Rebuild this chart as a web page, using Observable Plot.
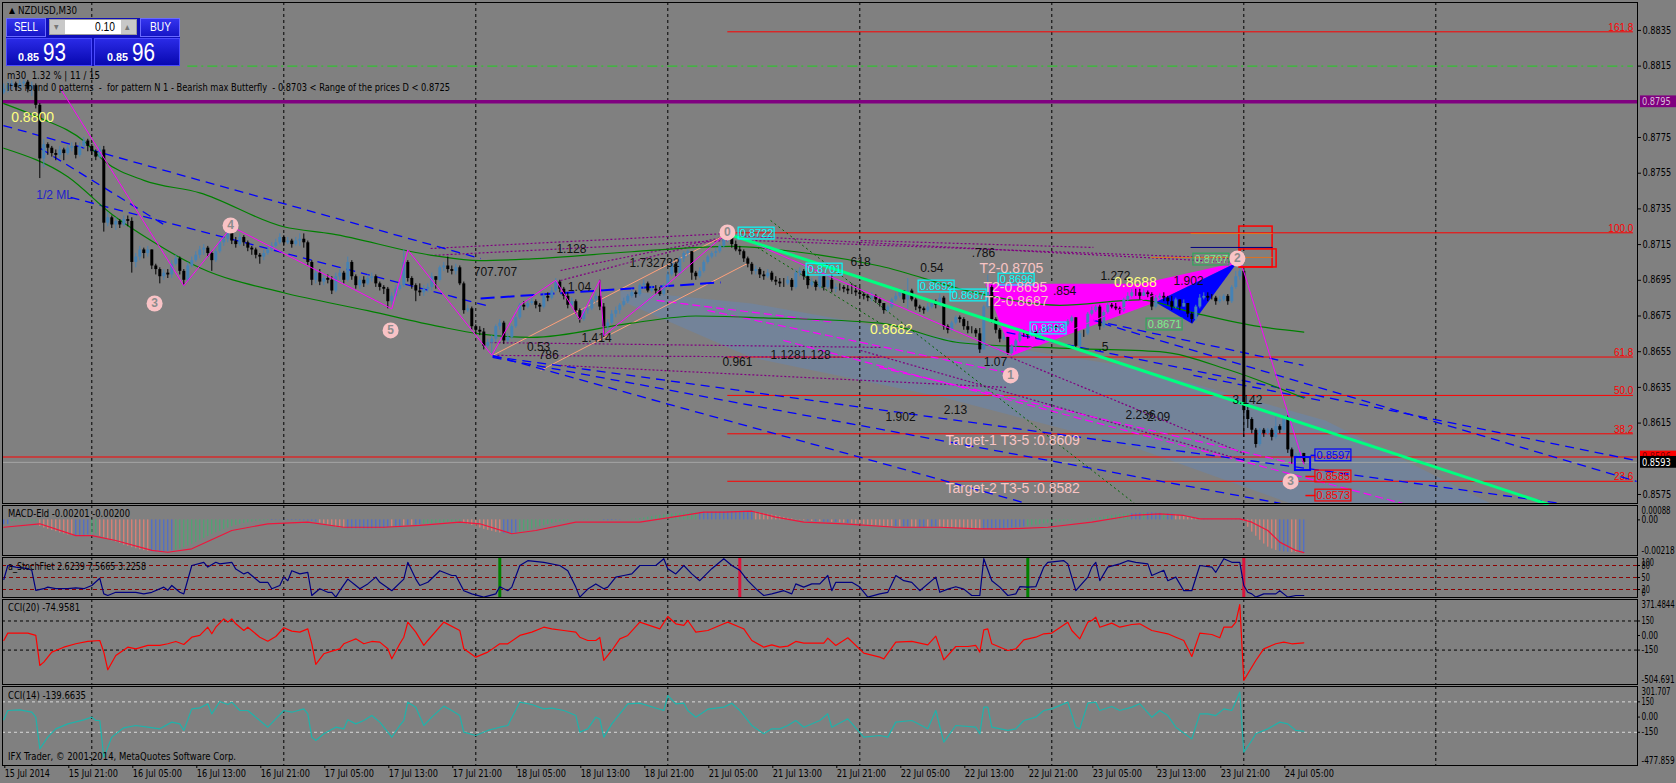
<!DOCTYPE html>
<html><head><meta charset="utf-8">
<script src="https://cdn.jsdelivr.net/npm/d3@7"></script>
<script src="https://cdn.jsdelivr.net/npm/@observablehq/plot@0.6"></script>
<style>
html,body{margin:0;padding:0;background:#808080;}
#chart{position:relative;width:1676px;height:783px;background:#808080;overflow:hidden;}
</style></head><body><div id="chart"></div>
<script>
// ---------------- DATA ----------------
// bar index 0 = 15 Jul 2014 13:00, M30 bars; prices in pips (0.0001)
const firstOpenPips = 8800;
const closePips = [
8802,8804,8805,8803,8805,8806,8802,8804,8793,8763,
8771,8769,8766,8765,8768,8766,8769,8770,8765,8770,
8773,8770,8767,8764,8768,8727,8730,8726,8728,8726,
8729,8728,8705,8708,8712,8710,8712,8703,8701,8697,
8699,8698,8704,8707,8700,8695,8703,8706,8709,8712,
8713,8710,8706,8711,8716,8718,8725,8717,8715,8719,
8716,8713,8712,8709,8708,8710,8712,8714,8716,8719,
8716,8717,8715,8717,8718,8716,8705,8695,8699,8694,
8696,8695,8689,8697,8699,8695,8705,8697,8692,8695,
8693,8696,8697,8693,8691,8690,8683,8686,8690,8692,
8705,8696,8692,8689,8688,8690,8691,8697,8695,8702,
8703,8701,8700,8702,8693,8678,8679,8669,8667,8666,
8658,8660,8662,8669,8671,8661,8663,8669,8674,8681,
8680,8682,8683,8681,8680,8686,8685,8689,8694,8690,
8686,8681,8683,8678,8673,8678,8679,8684,8686,8680,
8669,8671,8676,8678,8681,8683,8686,8688,8687,8692,
8693,8689,8690,8689,8687,8692,8698,8704,8699,8707,
8710,8711,8699,8697,8700,8705,8708,8710,8711,8714,
8718,8719,8715,8712,8711,8707,8704,8700,8701,8698,
8697,8699,8695,8694,8693,8693,8695,8691,8699,8700,
8697,8692,8694,8691,8697,8691,8695,8690,8691,8691,
8690,8689,8689,8688,8687,8686,8685,8686,8684,8682,
8678,8680,8684,8686,8689,8684,8689,8684,8680,8679,
8678,8680,8682,8681,8685,8669,8667,8671,8674,8673,
8669,8667,8667,8665,8656,8680,8691,8673,8667,8662,
8663,8654,8658,8661,8665,8665,8664,8666,8664,8667,
8668,8668,8669,8668,8669,8670,8672,8674,8658,8665,
8665,8676,8678,8680,8669,8677,8681,8680,8679,8678,
8684,8686,8688,8688,8686,8688,8687,8680,8685,8686,
8685,8683,8680,8684,8680,8682,8676,8673,8680,8685,
8686,8685,8685,8683,8684,8686,8683,8691,8697,8700,
8622,8617,8611,8603,8611,8609,8611,8607,8613,8611,
8618,8600,8596,8597,8598,8593];
const highPips = [
8805,8806,8807,8806,8807,8808,8807,8806,8805,8794,
8774,8772,8770,8768,8770,8769,8771,8772,8772,8772,
8775,8774,8771,8768,8770,8770,8733,8731,8730,8729,
8731,8731,8730,8710,8714,8713,8714,8712,8704,8702,
8701,8701,8706,8709,8708,8701,8705,8708,8711,8714,
8715,8714,8711,8713,8718,8720,8727,8726,8719,8721,
8720,8717,8714,8713,8710,8712,8714,8716,8718,8721,
8720,8719,8718,8719,8721,8721,8717,8706,8701,8701,
8698,8698,8697,8699,8701,8700,8708,8706,8698,8697,
8697,8698,8699,8698,8694,8692,8691,8688,8692,8694,
8712,8706,8697,8693,8693,8692,8693,8699,8697,8703,
8705,8708,8703,8704,8703,8694,8681,8680,8670,8669,
8668,8662,8664,8670,8673,8672,8665,8670,8676,8682,
8683,8684,8685,8684,8682,8688,8688,8691,8696,8695,
8691,8688,8685,8684,8679,8679,8681,8685,8688,8695,
8682,8673,8678,8680,8682,8685,8687,8690,8689,8693,
8695,8694,8692,8692,8691,8693,8700,8706,8705,8708,
8711,8712,8711,8700,8702,8706,8709,8711,8713,8715,
8719,8722,8721,8717,8714,8712,8708,8705,8703,8702,
8700,8701,8700,8697,8696,8696,8697,8696,8701,8702,
8701,8698,8696,8695,8699,8697,8697,8698,8693,8693,
8692,8692,8693,8692,8691,8688,8687,8688,8687,8685,
8682,8681,8685,8688,8690,8689,8696,8690,8685,8681,
8680,8682,8683,8684,8687,8686,8670,8672,8675,8675,
8674,8672,8669,8668,8668,8681,8698,8692,8674,8668,
8665,8663,8659,8662,8666,8667,8666,8667,8667,8668,
8669,8669,8670,8670,8670,8671,8673,8675,8674,8666,
8667,8677,8680,8681,8681,8678,8682,8682,8682,8680,
8685,8688,8690,8690,8690,8690,8689,8688,8687,8688,
8688,8686,8686,8685,8684,8684,8682,8677,8681,8687,
8688,8688,8687,8686,8686,8687,8687,8692,8700,8707,
8701,8624,8618,8612,8612,8612,8612,8612,8618,8614,
8619,8619,8601,8598,8599,8598];
const lowPips = [
8799,8800,8802,8801,8802,8803,8800,8798,8791,8752,
8758,8765,8764,8762,8763,8762,8765,8767,8763,8764,
8769,8767,8765,8762,8763,8722,8725,8724,8723,8724,
8725,8725,8699,8702,8706,8707,8708,8701,8698,8693,
8695,8696,8696,8703,8698,8692,8694,8702,8705,8707,
8709,8708,8700,8705,8710,8714,8716,8715,8713,8714,
8714,8711,8709,8707,8704,8706,8709,8711,8713,8715,
8714,8715,8713,8714,8714,8713,8703,8692,8693,8692,
8692,8693,8687,8688,8695,8693,8694,8695,8690,8690,
8691,8692,8694,8691,8689,8687,8679,8681,8685,8689,
8691,8694,8690,8683,8686,8686,8688,8689,8690,8694,
8700,8699,8698,8698,8692,8676,8677,8667,8665,8664,
8656,8657,8653,8660,8667,8659,8660,8662,8668,8673,
8678,8679,8681,8679,8677,8679,8683,8684,8688,8688,
8684,8679,8680,8676,8671,8672,8676,8678,8682,8678,
8663,8667,8670,8674,8676,8680,8682,8685,8685,8686,
8690,8688,8688,8687,8686,8686,8691,8697,8697,8698,
8705,8708,8695,8695,8696,8699,8704,8707,8708,8710,
8713,8716,8713,8711,8709,8705,8702,8698,8698,8696,
8695,8696,8694,8692,8691,8691,8692,8689,8690,8697,
8695,8690,8691,8689,8690,8689,8690,8688,8688,8689,
8688,8687,8687,8686,8685,8684,8683,8683,8682,8680,
8676,8677,8679,8683,8685,8682,8679,8683,8678,8677,
8676,8677,8679,8679,8680,8667,8665,8666,8670,8671,
8667,8665,8665,8663,8654,8656,8679,8671,8665,8660,
8661,8653,8653,8655,8660,8663,8662,8663,8662,8663,
8665,8666,8667,8667,8667,8668,8669,8671,8656,8657,
8663,8664,8675,8677,8667,8668,8676,8679,8678,8676,
8677,8683,8685,8686,8684,8686,8685,8678,8679,8684,
8683,8681,8678,8679,8678,8680,8674,8671,8672,8679,
8684,8683,8684,8681,8682,8683,8681,8682,8690,8695,
8607,8612,8609,8601,8602,8607,8608,8605,8606,8609,
8610,8598,8592,8595,8595,8592];

// x-axis
const xTickIdx = [0,16,32,48,64,80,96,112,128,144,160,176,192,208,224,240,256,272,288,304,320];
const xTickText = ["15 Jul 2014","15 Jul 21:00","16 Jul 05:00","16 Jul 13:00","16 Jul 21:00","17 Jul 05:00","17 Jul 13:00","17 Jul 21:00","18 Jul 05:00","18 Jul 13:00","18 Jul 21:00","21 Jul 05:00","21 Jul 13:00","21 Jul 21:00","22 Jul 05:00","22 Jul 13:00","22 Jul 21:00","23 Jul 05:00","23 Jul 13:00","23 Jul 21:00","24 Jul 05:00"];
const dayGridIdx = [22,70,118,166,214,262,310,358];
const priceTicks = [0.8575,0.8615,0.8635,0.8655,0.8675,0.8695,0.8715,0.8735,0.8755,0.8775,0.8815,0.8835];

// horizontal levels (pips)
const purpleLevel = 8795, greenLevel = 8815, bidPips = 8596, askPips = 8593;
const fibLevels = [{p:8834.2,t:"161.8"},{p:8721.6,t:"100.0"},{p:8652.0,t:"61.8"},{p:8630.5,t:"50.0"},{p:8609.0,t:"38.2"},{p:8582.4,t:"23.6"}];

// overlay geometry [barIndex, pips] / segments [i1,p1,i2,p2]
const zigzag = [[14,8803],[45,8692],[57,8725],[97,8679],[101,8712],[122,8653],[129,8681],[138,8695],[144,8673],[149,8695],[150,8664],[165,8691],[181,8722],[252,8653],[309,8707],[325,8592]];
const maUpper = [[0,8794],[9,8786],[20,8773],[25,8762],[35,8751],[49,8744],[70,8725],[82,8721],[107,8709],[119,8706],[132,8707],[157,8711],[182,8714],[198,8711],[219,8703],[243,8688],[264,8681],[284,8684],[297,8677],[314,8669],[325,8666]];
const maLower = [[0,8769],[16,8753],[27,8732],[37,8717],[49,8702],[70,8688],[91,8678],[109,8669],[119,8665],[132,8663],[157,8671],[173,8675],[190,8674],[219,8671],[239,8660],[264,8657],[289,8655],[306,8645],[325,8629]];
const wedgePts = [[154.2,8689.3],[186.9,8682],[234.9,8663],[282.7,8646.2],[330.4,8616.5],[371.7,8570],[321.7,8570],[282.7,8601.3],[234.9,8629.3],[186.9,8651.7],[154.2,8683.7]];
const harmonicMagenta = [[245.4,8693],[252.1,8652.9],[287.9,8682.7],[308.4,8705.1],[284.2,8693]];
const harmonicBlue = [[287.9,8682.7],[297.1,8670.6],[308.4,8705.1]];
const trendLine = [[182.2,8720.1,386.2,8569.4]];
const blueDashed = [[-0.1,8781.7,119.2,8707.2],[16.7,8741.4,121.7,8680.3],[9.2,8768.8,40.4,8725.7],[122.2,8652.9,255.7,8570],[122.2,8651.8,319.2,8570],[122.2,8652.3,389.2,8570],[274.7,8670.8,408.2,8582.3],[250.7,8665.8,408.2,8594.0],[272.4,8672.5,324.9,8647.3],[297.4,8641.7,329.2,8627.7]];
const blueLongDash = [[119.2,8684.8,179.2,8693.8]];
const purpleDotted = [[106.7,8712.8,180.9,8721.2],[106.7,8708.9,180.9,8717.3],[182.2,8720.1,308.2,8705.0],[186.9,8717.3,308.2,8707.2],[121.7,8660.1,219.2,8657.4],[123.4,8652.9,219.2,8651.8],[139.2,8647.3,250.7,8635.0],[214.2,8655.7,310.0,8594.1],[251.7,8651.8,310.0,8598.0],[214.2,8717.3,272.4,8713.4],[139.2,8694.9,182.2,8720.1],[139.2,8700.5,182.2,8720.1]];
const greenDotted = [[191.7,8728.5,282.7,8570.0],[188.4,8713.4,219.2,8670.8]];
const magentaDashed = [[163.2,8683.7,207.7,8671.4],[175.9,8678.1,250.7,8643.3],[194.9,8661.3,349.7,8570],[218.9,8646.2,322.4,8592.4]];
const salmonLines = [[122.2,8652.9,179.2,8719.0],[134.2,8644.5,185.9,8704.4]];
const redRects = [[308.9,8725.1,317.2,8702.2],[309.2,8712.3,318.2,8702.2]];
const orangeMarks = [[296.7,8721.2,317.2,8721.2],[286.7,8707.8,317.2,8707.8]];
const navyMarks = [[296.7,8713.4,317.2,8713.4]];
const redStubs = [[325.4,8585.1,327.9,8585.1],[325.4,8574.4,327.9,8574.4]];
const blueStubs = [[326.7,8596.9,327.9,8596.9]];
const blueSquare = [[322.9,8588.4,326.7,8595.7]];
const waveLabels = [[37.7,8682,"3"],[56.7,8725.7,"4"],[96.7,8666.9,"5"],[180.9,8721.8,"0"],[251.7,8641.7,"1"],[308.4,8707.2,"2"],[321.7,8582.3,"3"]];
const blackLabels = [[141.9,8712.3,"1.128"],[122.9,8699.4,"707.707"],[143.9,8691,"1.04"],[162.7,8704.4,"1.732732"],[133.7,8657.4,"0.53"],[136.2,8652.9,"786"],[148.2,8662.4,"1.414"],[214.2,8705,"618"],[183.4,8648.9,"0.961"],[199.2,8652.9,"1.1281.128"],[244.9,8710,".786"],[232,8701.6,"0.54"],[277.9,8697.1,"1.272"],[296.2,8694.3,"1.902"],[265.2,8688.7,".854"],[274.9,8657.4,".5"],[247.9,8648.9,"1.07"],[237.9,8622.1,"2.13"],[224.2,8618.1,"1.902"],[284.2,8619.3,"2.236"],[288.7,8618.1,"2.09"],[310.9,8627.7,"3.142"]];
const pinkLabels = [[251.9,8701.6,"T2-0.8705"],[252.9,8691,"T2-0.8695"],[253.2,8683.1,"T2-0.8687"],[252.2,8605.3,"Target-1 T3-5 :0.8609"],[252.2,8578.4,"Target-2 T3-5 :0.8582"]];
const yellowLabels = [[7.2,8786.2,"0.8800"],[282.9,8693.8,"0.8688"],[221.9,8667.4,"0.8682"]];
const blueTextLabels = [[12.7,8742.5,"1/2 ML"]];
const cyanBoxes = [[183.7,8721.2,"0.8722"],[200.7,8701,"0.8701"],[228.7,8691.5,"0.8692"],[236.7,8686.5,"0.8687"],[248.7,8695.4,"0.8696"],[256.7,8668,"0.8663"]];
const greenBoxes = [[297.4,8706.6,"0.8707"],[285.7,8670.2,"0.8671"]];
const blueBoxes = [[327.9,8596.9,"0.8597"]];
const redBoxes = [[327.9,8585.1,"0.8585"],[327.9,8574.4,"0.8573"]];

// MACD-Eld histogram (1e-5) and impulse states
const macdHist = [
-30,-28,
-10,-8,-7,-6,-6,-8,-12,
-40,-50,-58,-65,-72,-80,-86,-92,-96,
-96,-96,-94,-92,
-88,-85,
-100,-110,-120,-128,-136,
-145,-155,-162,-170,-177,-183,-188,-192,
-195,-198,-198,-196,-194,-190,
-185,-178,-170,-160,-150,-138,-126,-114,-102,-90,-80,-70,-60,-50,-42,
-34,-28,-22,-18,-14,-10,-8,-6,-4,
-4,-3,-2,-2,-3,-4,-4,-5,-6,-8,-10,-14,
-20,-26,-32,-38,-44,-48,-52,
-54,-55,-55,-54,-55,-56,-55,-54,-52,-50,
-46,-44,-42,-40,-38,-36,-34,-32,-30,
-28,-26,-24,-22,-20,-18,-16,-15,-14,-14,
-20,-26,-34,-42,-50,-58,-64,-70,-76,-80,
-84,-85,-84,-82,
-78,-72,-65,-58,-50,-42,-35,-28,-22,-16,
-12,-8,-5,-2,0,2,3,3,2,0,-2,
-4,-5,-4,-3,-2,0,2,4,6,8,
12,16,20,24,28,31,34,36,38,40,41,42,43,44,
45,46,46,47,47,48,48,49,50,50,52,53,53,52,
48,44,40,35,30,25,20,15,10,6,2,-2,-5,
-8,-10,-12,-12,-14,-15,-16,-16,-18,-20,-22,-24,
-26,-28,-30,-32,-34,-36,-38,-40,-41,-42,
-42,-43,-44,-44,-45,-46,-46,-46,-45,-44,-44,
-45,-47,-49,-51,-53,-54,-55,-56,-57,-58,-58,
-58,-57,-56,-56,-55,-54,-52,-50,-48,-46,-44,
-40,-36,-32,-28,-24,-20,-17,-14,-11,-8,-6,-4,-2,0,2,4,
7,10,14,18,22,26,29,32,34,36,
38,40,41,42,43,43,42,41,40,38,36,
32,27,22,17,12,8,5,
3,2,1,0,0,1,2,2,3,4,
-10,-45,-75,-100,-125,-148,-167,-178,-187,-192,-196,-198,-199,-200,-200,-201];
const impulseRuns = [["n",2],["u",7],["d",9],["n",4],["u",2],["d",13],["n",6],["u",24],["n",12],["d",7],["n",10],
["n",1],["d",1],["n",2],["d",1],["n",1],["d",1],["n",2],["u",10],["d",10],["n",4],["u",21],["n",5],["u",5],["u",14],["n",14],["d",13],
["n",1],["d",1],["n",1],["d",1],["n",2],["d",1],["n",1],["d",2],["n",1],["d",1],["d",10],
["n",1],["d",1],["n",2],["d",2],["n",2],["d",1],["n",2],["d",11],["n",11],["u",26],
["n",3],["u",1],["n",4],["u",1],["n",2],["d",7],["n",10],["d",9],["n",3],["d",2],["n",2]];
const macdSignal = [[0,-45],[9,-24],[18,-96],[22,-96],[28,-126],[37,-187],[41,-198],[47,-177],[57,-65],[66,-24],[76,-14],[85,-45],[95,-45],[104,-34],[114,-14],[119,-24],[127,-85],[133,-65],[143,-14],[149,-14],[159,-14],[170,27],[175,47],[180,47],[187,53],[193,17],[200,-14],[210,-24],[223,-45],[234,-45],[244,-55],[251,-55],[261,-45],[272,-14],[282,27],[289,37],[295,27],[299,6],[309,6],[312,-14],[316,-65],[319,-136],[323,-187],[325,-200]];

const stochPts = [[0,45],[1,80],[3,76],[6,72],[7,68],[8,18],[10,22],[11,26],[13,22],[16,22],[18,24],[20,22],[22,30],[24,48],[25,9],[26,5],[28,13],[33,13],[35,9],[37,13],[40,26],[41,18],[42,30],[44,13],[45,9],[47,80],[50,88],[51,76],[53,88],[54,84],[57,88],[58,71],[60,59],[61,63],[64,38],[66,38],[67,22],[69,30],[70,51],[71,42],[72,67],[74,59],[76,63],[77,5],[79,22],[81,13],[82,13],[83,1],[84,17],[86,46],[88,30],[89,22],[91,34],[93,51],[94,38],[97,17],[100,46],[101,88],[103,46],[104,30],[106,38],[109,67],[112,55],[113,55],[115,17],[117,9],[120,1],[123,9],[124,27],[126,17],[127,26],[129,80],[131,92],[135,88],[139,80],[141,67],[143,26],[144,1],[146,21],[148,34],[150,22],[151,26],[153,51],[155,55],[157,59],[159,80],[161,80],[163,80],[165,97],[166,72],[168,59],[170,80],[172,59],[174,42],[177,72],[180,97],[182,80],[184,68],[186,42],[188,22],[190,5],[192,9],[195,17],[197,9],[198,34],[200,26],[202,34],[204,34],[206,55],[207,17],[208,38],[212,38],[214,26],[216,1],[219,9],[221,13],[223,55],[225,42],[227,38],[229,17],[233,51],[234,13],[236,21],[238,27],[240,21],[242,5],[244,5],[245,97],[247,42],[249,26],[251,5],[253,9],[254,27],[256,26],[258,27],[260,76],[261,88],[265,92],[266,84],[268,17],[271,51],[272,76],[273,88],[274,42],[276,76],[279,84],[281,92],[283,88],[286,84],[287,55],[290,68],[291,42],[293,51],[295,17],[297,17],[299,80],[302,76],[303,63],[305,97],[307,88],[309,88],[310,30],[311,13],[312,9],[313,1],[315,9],[318,9],[319,17],[321,1],[323,5],[325,5]];
const stochBuyBars = [124,256];
const stochSellBars = [184,310];

const cci20 = [[0,-51],[1,25],[3,25],[6,25],[8,1],[9,-308],[10,-274],[12,-171],[15,-120],[18,-85],[21,-61],[24,-51],[25,-171],[26,-353],[28,-205],[31,-120],[33,-137],[36,-102],[39,-102],[41,-85],[43,-61],[45,-92],[47,-17],[49,1],[51,86],[52,18],[53,86],[55,172],[56,138],[57,172],[58,121],[60,52],[61,86],[64,-17],[66,-58],[68,-10],[70,80],[72,45],[74,35],[76,69],[77,-85],[78,-298],[80,-188],[82,-161],[84,-137],[85,-85],[87,-51],[88,-34],[90,-85],[92,-61],[94,-68],[96,-137],[97,-240],[99,-85],[100,-17],[101,138],[103,35],[105,-102],[106,-51],[110,138],[114,52],[115,-137],[118,-223],[121,-171],[124,-85],[126,-85],[129,1],[132,35],[135,86],[137,69],[140,52],[143,35],[144,-17],[146,-51],[148,-51],[149,-20],[150,-257],[152,-154],[154,-34],[156,1],[159,138],[164,69],[166,196],[168,121],[170,104],[171,155],[173,35],[176,52],[180,121],[181,138],[184,86],[185,69],[187,-51],[190,-120],[192,-96],[194,-120],[196,-109],[198,-61],[200,-78],[205,-78],[206,-27],[208,-102],[211,-23],[215,-181],[219,-223],[220,-240],[223,-68],[227,-61],[231,-96],[233,-6],[235,-250],[238,-113],[241,-113],[243,-102],[244,-171],[245,59],[246,69],[247,-85],[251,-154],[253,-137],[255,-44],[258,-17],[260,18],[262,25],[266,138],[267,52],[269,-34],[271,138],[272,155],[273,189],[274,86],[277,128],[279,86],[282,114],[284,121],[287,52],[291,18],[293,-17],[295,-51],[297,-216],[299,25],[302,11],[304,-23],[305,86],[307,86],[308,138],[309,320],[310,-463],[311,-394],[313,-257],[315,-137],[318,-85],[320,-68],[322,-85],[325,-75]];
const cci14 = [[0,-27],[1,65],[4,71],[7,48],[8,-1],[9,-313],[11,-198],[13,-116],[16,-67],[20,-27],[22,-1],[23,-34],[24,-34],[25,-396],[27,-198],[30,-106],[33,-83],[36,-100],[39,-116],[42,-50],[44,-67],[45,-132],[47,81],[49,91],[51,131],[52,32],[54,154],[56,124],[57,147],[59,65],[61,65],[64,-34],[66,-100],[68,-17],[70,65],[72,48],[75,81],[76,32],[77,-198],[78,-231],[80,-165],[83,-100],[85,-116],[86,-27],[88,-67],[90,-34],[92,15],[94,-50],[97,-198],[99,-83],[100,-34],[101,147],[103,98],[105,-83],[107,-1],[110,108],[112,65],[114,15],[115,-149],[118,-182],[121,-132],[124,-100],[126,-83],[129,147],[132,124],[135,81],[137,88],[140,65],[143,15],[144,-149],[146,-116],[148,-1],[149,-20],[150,-198],[152,-67],[154,32],[156,131],[159,137],[165,65],[166,213],[168,131],[170,137],[171,65],[173,-1],[176,78],[180,98],[182,137],[184,65],[187,-83],[190,-165],[192,-116],[194,-116],[196,-83],[198,-34],[200,-100],[204,-34],[206,32],[207,-100],[211,-17],[215,-198],[219,-182],[221,-198],[223,-50],[227,-34],[231,-116],[233,65],[235,-248],[238,-83],[243,-100],[244,-165],[245,98],[246,98],[247,-100],[251,-132],[253,-116],[255,-34],[258,-1],[260,65],[262,81],[266,147],[268,-100],[269,-116],[271,137],[273,147],[274,65],[277,104],[279,65],[282,98],[284,131],[287,-1],[289,65],[291,15],[293,-100],[297,-215],[299,32],[301,32],[303,15],[305,81],[307,65],[309,246],[310,-346],[312,-231],[313,-165],[316,-116],[319,-50],[321,-67],[323,-132],[325,-140]];

// ---------------- RENDER ----------------
const chart = document.getElementById("chart");
const FONT = 'Tahoma, "DejaVu Sans Condensed", "Liberation Sans Narrow", "DejaVu Sans", sans-serif';
const ARIAL = '"Liberation Sans", Arial, "DejaVu Sans", sans-serif';
const W = 1676, XD = [-0.325, 408.425], XR = 408.425;
const P = v => v / 1e4;

function base(extra) {
  return Object.assign({
    width: W, marginLeft: 2, marginRight: 39, marginTop: 0, marginBottom: 0,
    x: {domain: XD, axis: null},
    style: {background: "transparent", overflow: "visible", fontFamily: FONT, fontSize: "10px", color: "#000"}
  }, extra);
}
function place(svg, top) {
  svg.style.position = "absolute"; svg.style.left = "0px"; svg.style.top = top + "px";
  chart.appendChild(svg);
}
// squeeze texts that sit in the right-hand scale column to terminal-font widths
function fitRightColumn(svg, perChar) {
  const left0 = chart.getBoundingClientRect().left;
  svg.querySelectorAll("text").forEach(t => {
    const r = t.getBoundingClientRect();
    if (r.left - left0 > 1636 && t.textContent.length) {
      t.setAttribute("textLength", (t.textContent.length * perChar).toFixed(1));
      t.setAttribute("lengthAdjust", "spacingAndGlyphs");
    }
  });
}
const seg = (arr, opts) => Plot.link(arr, Object.assign({x1: d => d[0], y1: d => P(d[1]), x2: d => d[2], y2: d => P(d[3])}, opts));
const poly = (arr, fill) => Plot.line(arr, {x: d => d[0], y: d => P(d[1]), fill, stroke: "none"});
const boxMarks = (arr, color, textColor) => [
  Plot.rect(arr, {x1: d => d[0], x2: d => d[0] + 9, y1: d => P(d[1] - 3.3), y2: d => P(d[1] + 3.3), fill: "none", stroke: color, strokeWidth: 1.2}),
  Plot.text(arr, {x: d => d[0] + 4.5, y: d => P(d[1]), text: d => d[2], fill: textColor || color, fontFamily: ARIAL, fontSize: 11})
];
const grid = () => Plot.ruleX(dayGridIdx, {stroke: "#000", strokeDasharray: "3,3"});

const candles = closePips.map((c, i) => ({i, o: i === 0 ? firstOpenPips : closePips[i - 1], c, h: highPips[i], l: lowPips[i]}));
const bull = candles.filter(d => d.c > d.o), bear = candles.filter(d => d.c <= d.o);
const axisBox = (pips, bg, fg) => [
  Plot.rect([pips], {x1: XR + 0.75, x2: XR + 10, y1: d => P(d - 3.3), y2: d => P(d + 3.3), fill: bg}),
  Plot.text([pips], {x: XR + 1.1, y: d => P(d), text: d => P(d).toFixed(4), fill: fg, textAnchor: "start", fontSize: 10})
];

const mainSvg = Plot.plot(base({
  height: 501,
  y: {domain: [0.856995, 0.885063], axis: null},
  marks: [
    poly(wedgePts, "#738399"),
    grid(),
    Plot.ruleY(fibLevels, {y: d => P(d.p), x1: 181, x2: 407.4, stroke: "#FF0000"}),
    Plot.text(fibLevels, {x: 407.4, y: d => P(d.p), text: d => d.t, textAnchor: "end", lineAnchor: "bottom", dy: -1, fill: "#FF0000", fontFamily: ARIAL, fontSize: 10}),
    Plot.ruleY([P(purpleLevel)], {stroke: "#800080", strokeWidth: 3.5}),
    Plot.ruleY([P(greenLevel)], {x1: 46, x2: 407.4, stroke: "#1ED21E", strokeDasharray: "10,4,2,4"}),
    Plot.ruleY([P(bidPips)], {stroke: "#FF0000"}),
    Plot.ruleY([P(askPips)], {stroke: "#A4A4A4"}),
    poly(harmonicMagenta, "#FF00FF"),
    poly(harmonicBlue, "#0000FF"),
    seg(purpleDotted, {stroke: "#800080", strokeDasharray: "2,2", strokeWidth: 1.2}),
    seg(greenDotted, {stroke: "#006400", strokeDasharray: "2,3"}),
    seg(magentaDashed, {stroke: "#FF00FF", strokeDasharray: "8,4", strokeWidth: 1.2}),
    seg(salmonLines, {stroke: "#FFA07A"}),
    seg(blueDashed, {stroke: "#0000FF", strokeWidth: 1.3, strokeDasharray: "9,6"}),
    seg(blueLongDash, {stroke: "#0000FF", strokeWidth: 2, strokeDasharray: "14,6"}),
    Plot.line(maUpper, {x: d => d[0], y: d => P(d[1]), stroke: "#008000", strokeWidth: 1.2, curve: "monotone-x"}),
    Plot.line(maLower, {x: d => d[0], y: d => P(d[1]), stroke: "#008000", strokeWidth: 1.2, curve: "monotone-x"}),
    Plot.ruleX(bear, {x: "i", y1: d => P(d.l), y2: d => P(d.h), stroke: "#000"}),
    Plot.ruleX(bear, {x: "i", y1: d => P(d.o), y2: d => P(d.c), stroke: "#000", strokeWidth: 3}),
    Plot.ruleX(bull, {x: "i", y1: d => P(d.l), y2: d => P(d.h), stroke: "#4682B4"}),
    Plot.ruleX(bull, {x: "i", y1: d => P(d.o), y2: d => P(d.c), stroke: "#4682B4", strokeWidth: 3}),
    Plot.line(zigzag, {x: d => d[0], y: d => P(d[1]), stroke: "#FF00FF", strokeWidth: 1}),
    seg(trendLine, {stroke: "#00FF7F", strokeWidth: 3}),
    Plot.rect(redRects, {x1: d => d[0], x2: d => d[2], y1: d => P(d[1]), y2: d => P(d[3]), fill: "none", stroke: "#FF0000", strokeWidth: 1.5}),
    seg(orangeMarks, {stroke: "#E07020"}),
    seg(navyMarks, {stroke: "#000080"}),
    seg(redStubs, {stroke: "#FF0000", strokeWidth: 1.5}),
    seg(blueStubs, {stroke: "#0000FF", strokeWidth: 1.5}),
    Plot.rect(blueSquare, {x1: d => d[0], x2: d => d[2], y1: d => P(d[1]), y2: d => P(d[3]), fill: "none", stroke: "#0000FF", strokeWidth: 2}),
    ...boxMarks(cyanBoxes, "#00FFFF"),
    ...boxMarks(greenBoxes, "#2EA85A", "#7CF08C"),
    ...boxMarks(blueBoxes, "#0000FF"),
    ...boxMarks(redBoxes, "#FF0000"),
    Plot.dot(waveLabels, {x: d => d[0], y: d => P(d[1]), r: 8, fill: "#F9C3C6", stroke: "none"}),
    Plot.text(waveLabels, {x: d => d[0], y: d => P(d[1]), text: d => d[2], fill: "#8C8C8C", fontWeight: "bold", fontSize: 12, fontFamily: ARIAL}),
    Plot.text(blackLabels, {x: d => d[0], y: d => P(d[1]), text: d => d[2], fill: "#111", fontSize: 12, fontFamily: ARIAL}),
    Plot.text(pinkLabels, {x: d => d[0], y: d => P(d[1]), text: d => d[2], fill: "#F8C4C4", fontSize: 14, fontFamily: ARIAL}),
    Plot.text(yellowLabels, {x: d => d[0], y: d => P(d[1]), text: d => d[2], fill: "#FFFF80", fontSize: 14, fontFamily: ARIAL}),
    Plot.text(blueTextLabels, {x: d => d[0], y: d => P(d[1]), text: d => d[2], fill: "#1E1ECC", fontSize: 12, fontFamily: ARIAL}),
    Plot.axisY(priceTicks, {anchor: "right", tickSize: 3, tickPadding: 2, tickFormat: d => d.toFixed(4), label: null}),
    ...axisBox(purpleLevel, "#800080", "#D8BFD8"),
    ...axisBox(bidPips, "#FF0000", "#800000"),
    ...axisBox(askPips, "#000000", "#FFFFFF"),
    Plot.frame({stroke: "#000"})
  ]
}));
place(mainSvg, 2);

// side label helper for sub panels
function sideLabels(top, mid, bottom) {
  const m = [];
  if (top) m.push(Plot.text([top], {frameAnchor: "top-right", dx: 4, dy: 1, textAnchor: "start", lineAnchor: "top", fontSize: 10}));
  if (bottom) m.push(Plot.text([bottom], {frameAnchor: "bottom-right", dx: 4, dy: -2, textAnchor: "start", lineAnchor: "bottom", fontSize: 10}));
  if (mid.length) {
    m.push(Plot.text(mid, {x: XR, y: d => d[0], text: d => d[1], dx: 4, textAnchor: "start", fontSize: 10}));
    m.push(Plot.ruleY(mid, {y: d => d[0], x1: XR, x2: XR + 0.75, stroke: "#000"}));
  }
  return m;
}

// MACD
const impulse = impulseRuns.flatMap(([s, n]) => Array(n).fill(s));
const hist = macdHist.map((v, i) => ({i, v, s: impulse[i]}));
const macdSvg = Plot.plot(base({
  height: 50,
  y: {domain: [-0.00218, 0.00088], axis: null},
  marks: [
    grid(),
    Plot.ruleX(hist.filter(d => d.s === "u"), {x: "i", y1: 0, y2: d => d.v / 1e5, stroke: "#3CB371"}),
    Plot.ruleX(hist.filter(d => d.s === "d"), {x: "i", y1: 0, y2: d => d.v / 1e5, stroke: "#FA8072"}),
    Plot.ruleX(hist.filter(d => d.s === "n"), {x: "i", y1: 0, y2: d => d.v / 1e5, stroke: "#4169E1"}),
    Plot.line(macdSignal, {x: d => d[0], y: d => d[1] / 1e5, stroke: "#F0143C", strokeWidth: 1.2}),
    ...sideLabels("0.00088", [[0, "0.00"]], "-0.00218"),
    Plot.frame({stroke: "#000"})
  ]
}));
place(macdSvg, 505);

// Stochastic
const stochSvg = Plot.plot(base({
  height: 40,
  y: {domain: [0, 100], axis: null},
  marks: [
    grid(),
    Plot.ruleY([20, 50, 80], {stroke: "#8B0000", strokeDasharray: "4,3"}),
    Plot.ruleX(stochBuyBars, {stroke: "#008000", strokeWidth: 3}),
    Plot.ruleX(stochSellBars, {stroke: "#DC143C", strokeWidth: 3}),
    Plot.line(stochPts, {x: d => d[0], y: d => d[1], stroke: "#000080", strokeWidth: 1.2}),
    ...sideLabels("100", [[80, "80"], [50, "50"], [20, "20"]], "0"),
    Plot.frame({stroke: "#000"})
  ]
}));
place(stochSvg, 557);

// CCI(20)
const cci20Svg = Plot.plot(base({
  height: 85,
  y: {domain: [-504.691, 371.4844], axis: null},
  marks: [
    grid(),
    Plot.ruleY([150, -150], {stroke: "#000", strokeDasharray: "3,3"}),
    Plot.line(cci20, {x: d => d[0], y: d => d[1], stroke: "#FF0000", strokeWidth: 1.2}),
    ...sideLabels("371.4844", [[150, "150"], [0, "0.00"], [-150, "-150"]], "-504.691"),
    Plot.frame({stroke: "#000"})
  ]
}));
place(cci20Svg, 599);

// CCI(14) + time axis
const xTickMap = new Map(xTickIdx.map((d, k) => [d, xTickText[k]]));
const cci14Svg = Plot.plot(base({
  height: 97, marginBottom: 18,
  y: {domain: [-477.859, 301.707], axis: null},
  marks: [
    grid(),
    Plot.ruleY([150, -150], {stroke: "#D8D8D8", strokeDasharray: "3,3"}),
    Plot.line(cci14, {x: d => d[0], y: d => d[1], stroke: "#20B2AA", strokeWidth: 1.2}),
    ...sideLabels("301.707", [[150, "150"], [0, "0.00"], [-150, "-150"]], "-477.859"),
    Plot.axisX(xTickIdx, {anchor: "bottom", tickSize: 3, tickPadding: 1, tickFormat: d => xTickMap.get(d), textAnchor: "start", dx: 1, label: null, fontSize: 10}),
    Plot.frame({stroke: "#000"})
  ]
}));
place(cci14Svg, 686);

// fit label widths to the terminal font metrics
cci14Svg.querySelectorAll('[aria-label="x-axis tick label"] text').forEach(t => {
  t.setAttribute("textLength", (t.textContent.length * 4.1).toFixed(1));
  t.setAttribute("lengthAdjust", "spacingAndGlyphs");
});
[macdSvg, stochSvg, cci20Svg, cci14Svg].forEach(s => fitRightColumn(s, 4.15));
fitRightColumn(mainSvg, 4.8);

// ---------------- HTML overlays ----------------
function htext(txt, left, cy, w, o = {}) {
  const d = document.createElement("div");
  d.textContent = txt;
  const h = o.h || 14;
  Object.assign(d.style, {position: "absolute", left: left + "px", top: (cy - h / 2) + "px", height: h + "px", lineHeight: h + "px",
    fontSize: (o.size || 11) + "px", fontFamily: o.font || FONT, color: o.color || "#000", whiteSpace: "pre",
    transformOrigin: "0 50%", fontWeight: o.weight || "normal"});
  chart.appendChild(d);
  if (w) { const r = d.getBoundingClientRect().width; if (r > 0) d.style.transform = `scaleX(${w / r})`; }
  return d;
}
function hbox(left, top, w, h, st) {
  const d = document.createElement("div");
  Object.assign(d.style, {position: "absolute", left: left + "px", top: top + "px", width: w + "px", height: h + "px", boxSizing: "border-box"}, st);
  chart.appendChild(d); return d;
}

htext("\u25B2", 9, 11, 6, {size: 8});
htext("NZDUSD,M30", 18, 11, 59);
htext("m30  1.32 % | 11 / 15", 7, 76, 93);
htext("It is found 0 patterns  -  for pattern N 1 - Bearish max Butterfly  - 0.8703 < Range of the prices D < 0.8725", 7, 88, 443);

// one-click trading panel
hbox(6, 18, 174, 48, {background: "#0e0eb8"});
hbox(6, 18, 40, 19, {background: "linear-gradient(#3434ee,#1616c8)", border: "1px solid #6a6aff"});
htext("SELL", 14, 27, 24, {color: "#fff", size: 12, font: ARIAL});
hbox(140, 18, 40, 19, {background: "linear-gradient(#3434ee,#1616c8)", border: "1px solid #6a6aff"});
htext("BUY", 150, 27, 21, {color: "#fff", size: 12, font: ARIAL});
hbox(49, 19, 88, 16, {background: "#fff", border: "1px solid #9a9a9a"});
hbox(50, 20, 15, 14, {background: "#c8c8c8"});
hbox(121, 20, 15, 14, {background: "#c8c8c8"});
htext("\u25BE", 54, 27, 0, {color: "#777", size: 10});
htext("\u25B4", 125, 27, 0, {color: "#777", size: 10});
htext("0.10", 95, 27, 20, {color: "#000", size: 12, font: ARIAL});
hbox(6, 38, 86, 28, {background: "linear-gradient(#2a2ae6,#0808b0)", border: "1px solid #4a4aff"});
hbox(94, 38, 86, 28, {background: "linear-gradient(#2a2ae6,#0808b0)", border: "1px solid #4a4aff"});
htext("0.85", 18, 57, 21, {color: "#fff", size: 11, weight: "bold", font: ARIAL});
htext("93", 43, 52, 23, {color: "#fff", size: 25, h: 28, font: ARIAL});
htext("0.85", 107, 57, 21, {color: "#fff", size: 11, weight: "bold", font: ARIAL});
htext("96", 132, 52, 23, {color: "#fff", size: 25, h: 28, font: ARIAL});

// sub-window captions
htext("MACD-Eld -0.00201 -0.00200", 8, 514, 122);
htext("a_StochFlet 2.6239 7.5665 3.2258", 8, 567, 138);
htext("CCI(20) -74.9581", 8, 608, 72);
htext("CCI(14) -139.6635", 8, 696, 78);
htext("IFX Trader, \u00A9 2001-2014, MetaQuotes Software Corp.", 8, 757, 228);
</script></body></html>
